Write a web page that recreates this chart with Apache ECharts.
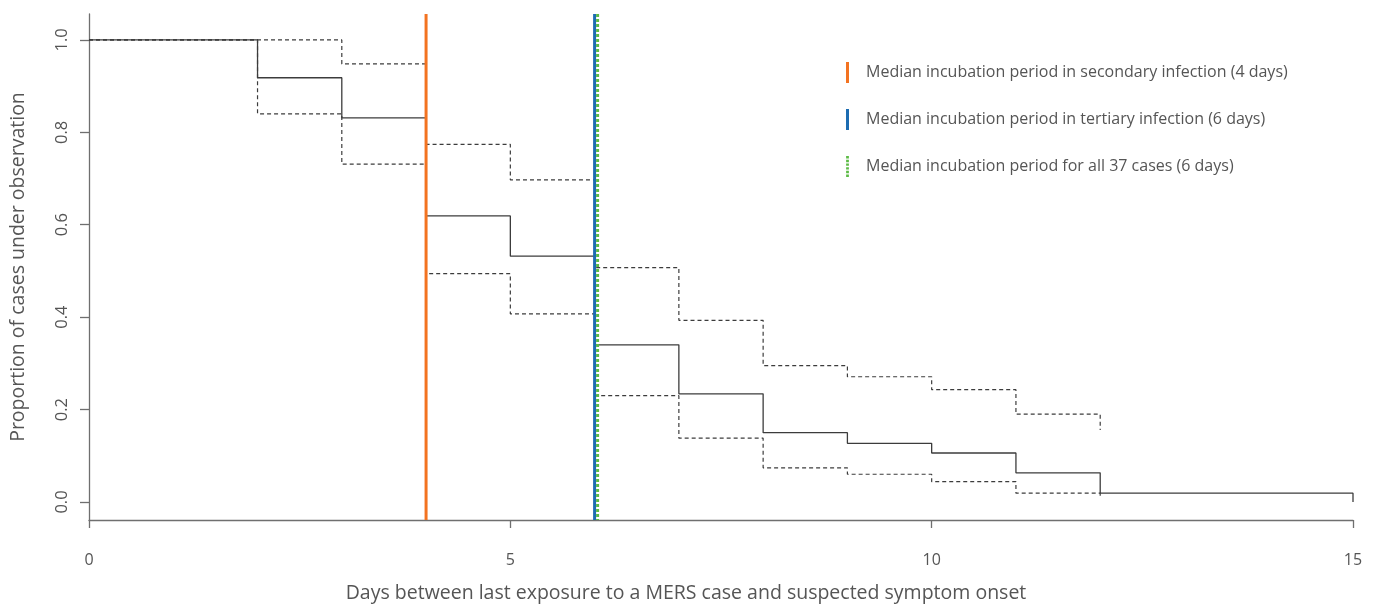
<!DOCTYPE html>
<html>
<head>
<meta charset="utf-8">
<script src="https://cdn.jsdelivr.net/npm/echarts@6/dist/echarts.min.js"></script>
<style>
  html, body { margin: 0; padding: 0; background: #fff; }
  #chart { width: 1381px; height: 604px; }
</style>
</head>
<body>
<div id="chart"></div>
<script>
// Kaplan-Meier estimate of the proportion still under observation, by day
const days = [0, 2, 3, 4, 5, 6, 7, 8, 9, 10, 11, 12];
const survival = [1.0, 0.918, 0.831, 0.619, 0.532, 0.340, 0.234, 0.150, 0.127, 0.106, 0.063, 0.019];
const survivalEnd = [15, 0];

// 95% confidence band (upper / lower), stepping on the same days
const ciDays = [0, 2, 3, 4, 5, 6, 7, 8, 9, 10, 11];
const upperCI = [1.0, 1.0, 0.948, 0.774, 0.697, 0.507, 0.393, 0.295, 0.271, 0.243, 0.190];
const upperEnd = [12, 0.156];
const lowerCI = [1.0, 0.840, 0.731, 0.494, 0.407, 0.230, 0.138, 0.074, 0.060, 0.044, 0.019];
const lowerEnd = [12, 0.009];

// Median incubation periods (days)
const medianNames = [
  'Median incubation period in secondary infection (4 days)',
  'Median incubation period in tertiary infection (6 days)',
  'Median incubation period for all 37 cases (6 days)'
];
const medianDays = [4, 6, 6];

const xTicks = [0, 5, 10, 15];
const yTicks = [0, 0.2, 0.4, 0.6, 0.8, 1.0];

const Y_MIN = -0.039, Y_MAX = 1.056;
const FONT = '"Open Sans", "Noto Sans", sans-serif';
const TEXT = '#555';
const AXIS = '#6f6f6f';
const INK = '#3c3c3c';

function pairs(xs, ys, tail) {
  const out = xs.map((x, i) => [x, ys[i]]);
  out.push(tail);
  return out;
}

function vline(name, day, color, dashed, shiftPx) {
  return {
    name: name,
    type: 'custom',
    z: 5,
    itemStyle: { color: color },
    data: [[day]],
    renderItem: function (params, api) {
      const top = api.coord([api.value(0), Y_MAX]);
      const bot = api.coord([api.value(0), Y_MIN]);
      const x = top[0] + shiftPx;
      return {
        type: 'line',
        shape: { x1: x, y1: top[1], x2: x, y2: bot[1] },
        style: {
          stroke: color,
          lineWidth: 3,
          lineDash: dashed ? [3, 2] : null
        }
      };
    }
  };
}

// icons for the legend: a short solid bar, or a column of dots
const barIcon = 'path://M0,0h3v21h-3z';
let dots = '';
for (let i = 0; i < 6; i++) dots += 'M0,' + (i * 4) + 'h3v2.6h-3z';
const dotIcon = 'path://' + dots;

const chart = echarts.init(document.getElementById('chart'), null, { renderer: 'canvas' });

chart.setOption({
  animation: false,
  backgroundColor: '#fff',
  textStyle: { fontFamily: FONT },
  grid: { left: 89, right: 28, top: 14, bottom: 84, containLabel: false, outerBoundsMode: 'none' },
  legend: {
    orient: 'vertical',
    left: 841,
    top: 57,
    itemWidth: 3,
    itemHeight: 21,
    itemGap: 26,
    selectedMode: false,
    textStyle: { color: TEXT, fontSize: 16, fontFamily: FONT, padding: [0, 0, 0, 12] },
    data: [
      { name: medianNames[0], icon: barIcon },
      { name: medianNames[1], icon: barIcon },
      { name: medianNames[2], icon: dotIcon }
    ]
  },
  xAxis: {
    type: 'value',
    min: 0,
    max: 15,
    interval: 5,
    name: 'Days between last exposure to a MERS case and suspected symptom onset',
    nameLocation: 'middle',
    nameGap: 63,
    nameTextStyle: { color: TEXT, fontSize: 19.5, fontFamily: FONT, padding: [0, 70, 0, 0] },
    axisLine: { show: true, onZero: false, lineStyle: { color: AXIS, width: 1.3 } },
    axisTick: { show: true, length: 8, lineStyle: { color: AXIS, width: 1.3 }, customValues: xTicks },
    axisLabel: { color: TEXT, fontSize: 16, margin: 32, customValues: xTicks },
    splitLine: { show: false }
  },
  yAxis: {
    type: 'value',
    min: Y_MIN,
    max: Y_MAX,
    name: 'Proportion of cases under observation',
    nameLocation: 'middle',
    nameGap: 61,
    nameTextStyle: { color: TEXT, fontSize: 19.5, fontFamily: FONT },
    axisLine: { show: true, onZero: false, lineStyle: { color: AXIS, width: 1.3 } },
    axisTick: { show: true, length: 9, lineStyle: { color: AXIS, width: 1.3 }, customValues: yTicks },
    axisLabel: {
      color: TEXT,
      fontSize: 16.5,
      rotate: 90,
      margin: 18,
      customValues: yTicks,
      formatter: v => v.toFixed(1)
    },
    splitLine: { show: false }
  },
  series: [
    {
      name: 'upper',
      type: 'line',
      step: 'end',
      showSymbol: false,
      z: 2,
      lineStyle: { color: INK, width: 1.2, type: [4, 3] },
      data: pairs(ciDays, upperCI, upperEnd)
    },
    {
      name: 'lower',
      type: 'line',
      step: 'end',
      showSymbol: false,
      z: 2,
      lineStyle: { color: INK, width: 1.2, type: [4, 3] },
      data: pairs(ciDays, lowerCI, lowerEnd)
    },
    {
      name: 'survival',
      type: 'line',
      step: 'end',
      showSymbol: false,
      z: 3,
      lineStyle: { color: INK, width: 1.3 },
      data: pairs(days, survival, survivalEnd)
    },
    vline(medianNames[0], medianDays[0], '#f37321', false, 0),
    vline(medianNames[1], medianDays[1], '#1c6cb1', false, 0),
    vline(medianNames[2], medianDays[2], '#5dbb46', true, 3)
  ]
});
</script>
</body>
</html>
